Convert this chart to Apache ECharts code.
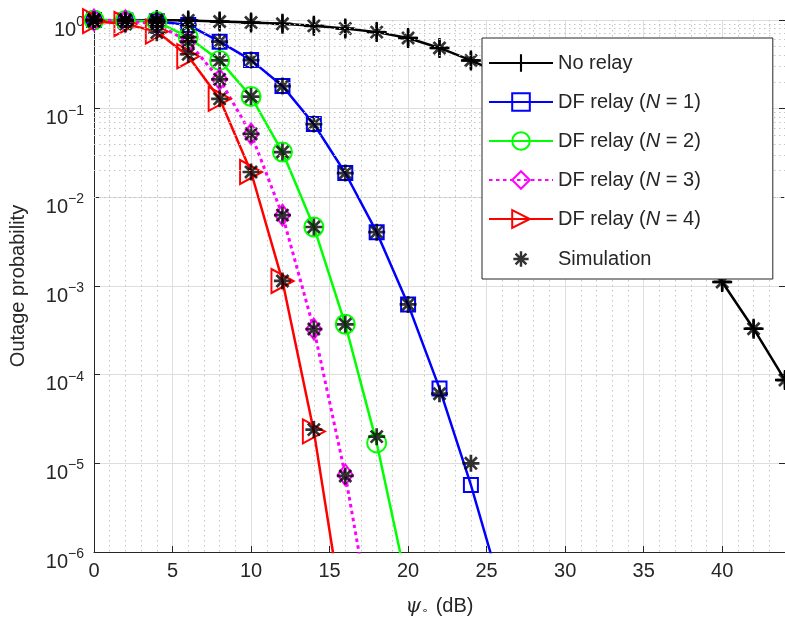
<!DOCTYPE html>
<html>
<head>
<meta charset="utf-8">
<script src="https://cdn.jsdelivr.net/npm/echarts@6/dist/echarts.min.js"></script>
<style>
html, body { margin: 0; padding: 0; background: #fff; }
#chart { width: 785px; height: 622px; }
</style>
</head>
<body>
<div id="chart"></div>
<script>
// psi (dB) grid of the curves
var xNoRelay = [0, 2, 4, 6, 8, 10, 12, 14, 16, 18, 20, 22, 24, 26, 28, 30, 32, 34, 36, 38, 40, 42, 44];
var xN1 = [0, 2, 4, 6, 8, 10, 12, 14, 16, 18, 20, 22, 24, 26];
var xN2 = [0, 2, 4, 6, 8, 10, 12, 14, 16, 18, 20];
var xN3 = [0, 2, 4, 6, 8, 10, 12, 14, 16, 18];
var xN4 = [0, 2, 4, 6, 8, 10, 12, 14, 16];

// analytical outage probability
var pNoRelay = [1, 1, 1, 0.99, 0.96, 0.935, 0.905, 0.859, 0.80, 0.73, 0.626, 0.484, 0.35,
                0.243, 0.153, 0.0863, 0.0443, 0.0207, 0.0086, 0.0033, 0.00111, 0.00033, 0.000087];
var pN1 = [1, 0.99, 0.97, 0.88, 0.57, 0.353, 0.18, 0.067, 0.0188, 0.00405, 0.00062, 0.00007, 0.0000057, 0.00000034];
var pN2 = [1, 0.99, 0.96, 0.64, 0.35, 0.137, 0.0324, 0.00463, 0.00037, 0.000017, 0.00000038];
var pN3 = [1, 0.98, 0.9, 0.57, 0.214, 0.0519, 0.0063, 0.000327, 0.0000074, 0.000000074];
var pN4 = [0.97, 0.9, 0.74, 0.39, 0.129, 0.0193, 0.00114, 0.0000229, 0.00000013];

// simulation points
var sxNoRelay = xNoRelay;
var sNoRelay = pNoRelay;
var sxN1 = [0, 2, 4, 6, 8, 10, 12, 14, 16, 18, 20, 22, 24];
var sN1 = [1, 0.99, 0.97, 0.88, 0.57, 0.353, 0.18, 0.067, 0.0188, 0.00405, 0.00062, 0.000061, 0.00001];
var sxN2 = [0, 2, 4, 6, 8, 10, 12, 14, 16, 18];
var sN2 = [1, 0.99, 0.96, 0.64, 0.35, 0.137, 0.0324, 0.00463, 0.00037, 0.00002];
var sxN3 = [0, 2, 4, 6, 8, 10, 12, 14, 16];
var sN3 = [1, 0.98, 0.9, 0.57, 0.214, 0.0519, 0.0063, 0.000327, 0.0000072];
var sxN4 = [0, 2, 4, 6, 8, 10, 12, 14];
var sN4 = [0.97, 0.9, 0.72, 0.41, 0.129, 0.0193, 0.00114, 0.000024];

var seriesNames = ['No relay', 'DF relay (N = 1)', 'DF relay (N = 2)', 'DF relay (N = 3)', 'DF relay (N = 4)', 'Simulation'];
var xTicks = [0, 5, 10, 15, 20, 25, 30, 35, 40];

function pairs(xs, ys) {
    return xs.map(function (x, i) { return [x, ys[i]]; });
}

// bars through the centre -> '+' and '*' marker shapes
function barsPath(angles, half) {
    var s = '';
    angles.forEach(function (a) {
        var r = a * Math.PI / 180;
        var ux = Math.cos(r), uy = Math.sin(r), nx = -uy, ny = ux;
        var pts = [[50 + 50 * ux + half * nx, 50 + 50 * uy + half * ny],
                   [50 - 50 * ux + half * nx, 50 - 50 * uy + half * ny],
                   [50 - 50 * ux - half * nx, 50 - 50 * uy - half * ny],
                   [50 + 50 * ux - half * nx, 50 + 50 * uy - half * ny]];
        s += 'M' + pts.map(function (p) { return p[0].toFixed(2) + ' ' + p[1].toFixed(2); }).join(' L') + ' Z ';
    });
    return s;
}
var plusSym = 'path://' + barsPath([0, 90], 6);
var starSym = 'path://' + barsPath([0, 45, 90, 135], 8);
// same star with empty corners so the legend icon is drawn smaller
var starLegend = starSym + ' M-22 -22 L-22 -22 Z M122 122 L122 122 Z';

var minorY = [];
for (var k = -6; k < 0; k++) {
    for (var m = 2; m <= 9; m++) minorY.push({ yAxis: m * Math.pow(10, k) });
}

var FONT = 'Liberation Sans';
var TXT = '#262626';

var chart = echarts.init(document.getElementById('chart'));

function curve(name, xs, ys, color, symbol, size, extra) {
    var s = {
        name: name,
        type: 'line',
        data: pairs(xs, ys),
        symbol: symbol,
        symbolSize: size,
        showAllSymbol: true,
        clip: true,
        z: 3,
        lineStyle: { color: color, width: 2.5 },
        itemStyle: { color: 'rgba(0,0,0,0)', borderColor: color, borderWidth: 2 }
    };
    for (var key in extra) s[key] = extra[key];
    return s;
}

var simData = [].concat(pairs(sxNoRelay, sNoRelay), pairs(sxN1, sN1), pairs(sxN2, sN2),
                        pairs(sxN3, sN3), pairs(sxN4, sN4));

var legendData = seriesNames.slice(0, 5).concat([{ name: seriesNames[5], icon: starLegend }]);

chart.setOption({
    backgroundColor: '#fff',
    animation: false,
    grid: { left: 92, right: -2, top: 20, bottom: 66 },
    legend: {
        data: legendData,
        orient: 'vertical',
        left: 482,
        top: 38,
        z: 20,
        itemWidth: 64,
        itemHeight: 22,
        itemGap: 19,
        padding: [15, 72, 9, 6],
        backgroundColor: '#fff',
        borderColor: '#262626',
        borderWidth: 1,
        borderRadius: 0,
        textStyle: {
            fontFamily: FONT, fontSize: 20, color: TXT,
            rich: { i: { fontFamily: FONT, fontSize: 20, color: TXT, fontStyle: 'italic' } }
        },
        formatter: function (name) { return name.replace('(N', '({i|N}'); }
    },
    xAxis: {
        type: 'value',
        min: 0,
        max: 44,
        interval: 5,
        name: '{i|ψ}{o|∘} (dB)',
        nameLocation: 'middle',
        nameGap: 44,
        nameTextStyle: {
            fontFamily: FONT, fontSize: 20, color: TXT,
            rich: {
                i: { fontFamily: 'DejaVu Serif', fontStyle: 'italic', fontSize: 20, color: TXT },
                o: { fontFamily: 'DejaVu Sans', fontSize: 11, color: TXT, padding: [10, 2, 0, 0] }
            }
        },
        axisLine: { lineStyle: { color: TXT, width: 1 } },
        axisTick: { inside: true, length: 6, lineStyle: { color: TXT } },
        axisLabel: {
            fontFamily: FONT, fontSize: 20, color: TXT, margin: 9, showMaxLabel: false,
            formatter: function (v) { return xTicks.indexOf(v) >= 0 ? String(v) : ''; }
        },
        splitLine: { show: true, lineStyle: { color: '#dedede', width: 1 } },
        minorTick: { show: false, splitNumber: 5 },
        minorSplitLine: { show: true, lineStyle: { color: '#c4c4c4', width: 1, type: [1.5, 3.5] } }
    },
    yAxis: [{
        type: 'log',
        logBase: 10,
        min: 1e-6,
        max: 1,
        splitNumber: 6,
        name: 'Outage probability',
        nameLocation: 'middle',
        nameGap: 66,
        nameTextStyle: { fontFamily: FONT, fontSize: 20, color: TXT },
        axisLine: { show: true, lineStyle: { color: TXT, width: 1 } },
        axisTick: { show: true, inside: true, length: 6, lineStyle: { color: TXT } },
        axisLabel: {
            margin: 10,
            padding: [12, 0, 0, 0],
            showMaxLabel: true,
            formatter: function (v) {
                var e = Math.round(Math.log(v) / Math.LN10);
                return '{b|10}{s|' + (e < 0 ? '\u2212' + (-e) : String(e)) + '}';
            },
            rich: {
                b: { fontFamily: FONT, fontSize: 20, color: TXT, padding: [8, 0, 0, 0] },
                s: { fontFamily: FONT, fontSize: 14, color: TXT, padding: [0, 0, 8, 0] }
            }
        },
        splitLine: { show: true, lineStyle: { color: '#dedede', width: 1 } }
    }, {
        type: 'log',
        logBase: 10,
        min: 1e-6,
        max: 1,
        splitNumber: 6,
        position: 'right',
        axisLine: { show: true, lineStyle: { color: TXT, width: 1 } },
        axisTick: { show: true, inside: true, length: 6, lineStyle: { color: TXT } },
        axisLabel: { show: false },
        splitLine: { show: false }
    }],
    series: [
        {
            name: 'minor-grid',
            type: 'line',
            data: [],
            z: 1,
            markLine: {
                silent: true,
                symbol: 'none',
                label: { show: false },
                lineStyle: { color: '#c4c4c4', width: 1, type: [1.5, 3.5] },
                data: minorY
            }
        },
        curve(seriesNames[0], xNoRelay, pNoRelay, '#000000', plusSym, 20, {
            symbolKeepAspect: true,
            itemStyle: { color: '#000000' }
        }),
        curve(seriesNames[1], xN1, pN1, '#0000ff', 'rect', 14),
        curve(seriesNames[2], xN2, pN2, '#00ff00', 'circle', 19),
        curve(seriesNames[3], xN3, pN3, '#ff00ff', 'diamond', [15, 21], {
            lineStyle: { color: '#ff00ff', width: 3, type: [3.5, 3.5] }
        }),
        curve(seriesNames[4], xN4, pN4, '#ff0000', 'triangle', [24, 22], { symbolRotate: -90 }),
        {
            name: seriesNames[5],
            type: 'scatter',
            data: simData,
            symbol: starSym,
            symbolSize: 17,
            symbolKeepAspect: true,
            clip: true,
            z: 3,
            itemStyle: { color: '#000000' }
        }
    ]
});
</script>
</body>
</html>
